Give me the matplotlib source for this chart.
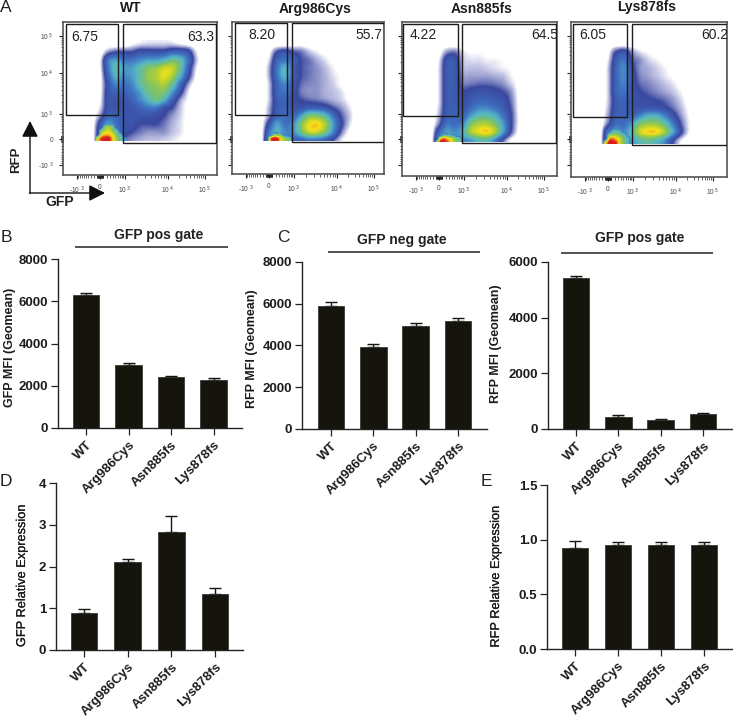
import numpy as np
import matplotlib
matplotlib.use("Agg")
import matplotlib.pyplot as plt
import matplotlib.patheffects as pe
from matplotlib.colors import LinearSegmentedColormap, Normalize
from matplotlib.patches import Rectangle

plt.rcParams['font.family'] = ['Liberation Sans', 'DejaVu Sans']

W, H = 733, 717
categories = ['WT', 'Arg986Cys', 'Asn885fs', 'Lys878fs']

# Bar values / upper error tops
gfp_mfi_pos = [6280, 2998, 2414, 2272]
gfp_mfi_pos_top = [6375, 3060, 2477, 2351]
rfp_mfi_neg = [5908, 3912, 4950, 5174]
rfp_mfi_neg_top = [6084, 4056, 5094, 5300]
rfp_mfi_pos = [5437, 443, 323, 539]
rfp_mfi_pos_top = [5509, 491, 371, 587]
gfp_rel = [0.885, 2.10, 2.82, 1.35]
gfp_rel_top = [0.99, 2.19, 3.22, 1.48]
rfp_rel = [0.927, 0.95, 0.95, 0.95]
rfp_rel_top = [0.99, 0.975, 0.975, 0.975]

# Flow cytometry gate percentages
gate_left = ['6.75', '8.20', '4.22', '6.05']
gate_right = ['63.3', '55.7', '64.5', '60.2']

# Density levels (rows top to bottom, columns left to right)
density_wt = [
 [0,0,0,0,0,.3,.5,.6,.6,.6,.6,.4,.2,0,0],
 [0,0,1,1.5,1.5,1.5,2,2,2,2,2.5,2.5,2,.5,0],
 [0,.3,3,4,3,3,3.5,4,4,4.5,5.5,5,3,.8,0],
 [0,.3,3,5,4,4,5,6,6.5,7.5,7.5,5.5,2.5,.5,0],
 [0,.2,2.5,4.5,3.5,4,5,6.5,7,8,7,4.5,2,.3,0],
 [0,.2,2,3.5,3,3.5,5,6,6.5,7,5.5,3,1,.1,0],
 [0,.2,2,2.5,2.5,3,4,5.5,6,6,4,2,.5,0,0],
 [0,.3,2,2,2,2.5,3.5,4.5,5.5,4.5,2.5,1,.3,.1,0],
 [0,.5,2,2,2,2,2.5,3,3,2,1.5,.7,.2,0,0],
 [0,1,2.5,2.5,2,2,2,2,1.8,1.5,1,.6,.2,0,0],
 [0,2,4,3,2,2,1.5,1.5,1.5,1.2,.8,.5,.2,.1,0],
 [0,2.5,4.5,3.5,2,1.5,1.2,1,1,1,.7,.5,.2,.1,0],
 [0,2.5,4,3.5,1.5,1,.8,.7,.7,.6,.5,.3,.1,0,0],
]
density_arg = [
 [0,0,0,0,.1,.2,.1,0,0,0,0,0,0,0,0],
 [0,.2,1.5,2,1.5,1.2,.7,.4,.2,.1,0,0,0,0,0],
 [0,.5,2.5,3,2.5,1.5,1.2,.8,.5,.2,.1,0,0,0,0],
 [0,.8,3,4.5,2.5,1.5,1.2,1,.7,.4,.2,.1,0,0,0],
 [0,.8,3,4.5,2.5,1.5,1.2,1,.8,.5,.3,.1,0,0,0],
 [0,.6,2.5,3.5,2.2,1.3,1.1,1,.8,.6,.3,.1,0,0,0],
 [0,.6,2.5,3,2,1.2,1,1,.8,.7,.5,.2,.05,0,0],
 [0,.6,2.2,2.5,1.8,1.5,1.3,1.2,1,.8,.6,.3,.05,0,0],
 [0,.8,2.2,2.5,2,2,2.5,2.5,2.2,1.5,1,.5,.1,0,0],
 [0,1,2.5,2.8,2.5,4,6,6,5,3,1.5,.7,.1,0,0],
 [0,2,4,3,3.5,6,8,8.5,7,4,1.8,.6,.1,0,0],
 [0,3,4.5,3.5,3.5,5.5,7.5,7.5,6,3.5,1.3,.3,.1,0,0],
 [0,3.5,4,3.5,2.5,2.5,3,3,2.5,1.5,.5,.1,0,0,0],
]
density_asn = [
 [0,0,0,0,0,0,0,0,0,0,0,0,0,0,0],
 [0,.1,1,1.2,.5,.3,.3,.2,.1,.1,.1,0,0,0,0],
 [0,.4,2,2,.7,.5,.5,.4,.4,.3,.2,.1,0,0,0],
 [0,.5,2.2,2.2,.8,.7,.7,.6,.5,.4,.3,.1,.03,0,0],
 [0,.5,2.2,2.2,1,.9,.9,.9,.8,.7,.4,.15,.05,0,0],
 [0,.5,2.2,2.2,1.2,1.2,1.3,1.3,1.2,1,.6,.2,.05,0,0],
 [0,.5,2.2,2.2,1.6,1.8,2,2,1.8,1.5,1,.2,.05,0,0],
 [0,.5,2.2,2.2,1.8,2.2,2.5,2.5,2.2,2,1.2,.25,.03,0,0],
 [0,.6,2.2,2.3,2,2.8,3.5,3.5,3,2.3,1.4,.25,.03,0,0],
 [0,.8,2.4,2.5,2.5,4,5,5,4.5,3,1.6,.3,.05,0,0],
 [0,1.2,3,2.8,3.5,6,7,7,6,4,1.7,.3,.05,0,0],
 [0,2.5,4,3.5,4.5,7,8,8.5,7,4,1.5,.2,.03,0,0],
 [0,3.5,4,4,3.5,4,5,5,3.5,1.5,.3,.03,0,0,0],
]
density_lys = [
 [0,0,0,0,0,0,0,0,0,0,0,0,0,0,0],
 [0,.2,1.5,2,1,.5,.3,.1,0,0,0,0,0,0,0],
 [0,.4,2.2,3,1.5,1,.6,.4,.2,.1,0,0,0,0,0],
 [0,.6,2.5,3.5,1.8,1,.8,.6,.4,.2,.1,0,0,0,0],
 [0,.6,2.5,3.5,2,1.1,.9,.7,.5,.3,.15,.05,0,0,0],
 [0,.6,2.5,3.3,2,1.3,1.1,.9,.7,.5,.25,.1,0,0,0],
 [0,.6,2.5,3,2,1.6,1.3,1.1,.9,.7,.4,.15,.03,0,0],
 [0,.6,2.2,2.5,2,1.8,1.7,1.5,1.3,1,.6,.2,.05,0,0],
 [0,.7,2.2,2.4,2,2,2.2,2.1,1.8,1.3,.8,.3,.05,0,0],
 [0,.9,2.4,2.5,2.5,3.5,4.5,4.5,3.5,2.2,1.1,.4,.05,0,0],
 [0,1.3,2.8,2.8,4,6,6.5,6.5,5.5,3.5,1.6,.5,.1,0,0],
 [0,3,4,3.5,5,7.5,8.5,8.5,7,4.5,2,.5,.1,0,0],
 [0,3.5,4,3.5,4,5,5.5,5,4,2,.6,.1,0,0,0],
]

# Finer density levels around the negative population in each flow plot
hot_wt = [
 [0,0,0,0,0,0,0,0,0],
 [0,0,0,5.5,6,5,0,0,0],
 [0,0,5,7,7.5,6,4.5,0,0],
 [0,0,7,8.5,8.5,7.5,5.5,4,0],
 [0,7,9.5,10,10,8.5,6.5,5,3.5],
 [0,7,9.5,10,10,8.5,6.5,5,3.5],
 [0,7,9.5,10,10,8.5,6.5,5,3.5],
]
hot_arg = [
 [0,0,0,0,0,0,0,0,0],
 [0,0,0,0,0,0,0,0,0],
 [0,0,0,0,0,0,0,0,0],
 [0,0,0,5,5,4,0,0,0],
 [0,0,8,10,9.5,7.5,6,5,0],
 [0,0,8,10,9.5,7.5,6,5,0],
 [0,0,8,10,9.5,7.5,6,5,0],
]
hot_asn = [
 [0,0,0,0,0,0,0,0,0],
 [0,0,0,0,0,0,0,0,0],
 [0,0,0,0,0,0,0,0,0],
 [0,0,0,3.5,3.5,3,0,0,0],
 [0,0,7,9,8,7,5.5,4.5,0],
 [0,5,10,10,9.5,8,6,5,0],
 [0,5,10,10,9.5,8,6,5,0],
]
hot_lys = [
 [0,0,0,0,0,0,0,0,0],
 [0,0,0,0,0,0,0,0,0],
 [0,0,0,4,4,3.5,0,0,0],
 [0,0,5,6,6,5,4,0,0],
 [0,0,8,9,8,7,5,4,0],
 [0,7,10,10,9.5,7,5.5,4,0],
 [0,7,10,10,9.5,7,5.5,4,0],
]

cmap = LinearSegmentedColormap.from_list('flow', [
    (0.00, '#ffffff'), (0.03, '#ffffff'), (0.06, '#c9cbe8'), (0.15, '#3a479f'),
    (0.30, '#3f72c2'), (0.45, '#55b5c8'), (0.60, '#7cc26a'), (0.72, '#b8d12f'),
    (0.83, '#f3e21c'), (0.91, '#f59a1f'), (1.00, '#d8201f')])
# The fine layer uses the upper part of the same scale; low values stay see-through
cmap_hot = LinearSegmentedColormap.from_list('hot', cmap(np.linspace(0.3, 1, 256))).with_extremes(under=(0, 0, 0, 0))
norm_hot = Normalize(3.0, 10)

fig = plt.figure(figsize=(W/100, H/100), dpi=100)

def fx(x): return x / W
def fy(y): return 1 - y / H

def px_axes(l, t, r, b):
    return fig.add_axes([fx(l), fy(b), (r - l)/W, (b - t)/H], facecolor='none')

def ftext(x, y, s, **kw):
    return fig.text(fx(x), fy(y), s, ha=kw.pop('ha', 'center'), va=kw.pop('va', 'center'), **kw)

def logicle_pos(v, anchors_v, anchors_p):
    t = lambda a: np.arcsinh(np.asarray(a, float)/500)
    return np.interp(t(v), t(anchors_v), anchors_p)

major_v = [-1000, 0, 1000, 10000, 100000]
x_major = [14, 37, 62, 105, 142]
y_major = [143, 117, 92, 51, 14]
major_labels = ['-10$^{\\ 3}$', '0', '10$^{\\ 3}$', '10$^{\\ 4}$', '10$^{\\ 5}$']
minor_v = ([-m*100 for m in range(2, 10)] + [-m*100 for m in range(10, 30, 5)]
           + [s*m*10 for s in (-1, 1) for m in range(1, 10)]
           + [m*100 for m in range(1, 10)] + [m*1000 for m in range(2, 10)]
           + [m*10000 for m in range(2, 10)] + [2e5])

def flow_panel(frame, gl, gr, dens, hot, clip_y, txt_l, txt_r, lab_l, lab_r, title, title_xy, ylabels=False):
    l, t, r, b = frame
    ax = px_axes(l, t, r, b)
    ax.set_facecolor('white')
    w, h = r - l, b - t
    im = ax.imshow(np.array(dens), extent=(25, 145, 122, 18), origin='upper', cmap=cmap,
                   vmin=0, vmax=10, aspect='auto', interpolation='catrom',
                   interpolation_stage='data')
    im2 = ax.imshow(np.array(hot), extent=(28, 64, 126, 98), origin='upper', cmap=cmap_hot,
                    norm=norm_hot, aspect='auto', interpolation='catrom',
                    interpolation_stage='data')
    ax.set_xlim(0, w); ax.set_ylim(h, 0)
    for i in (im, im2):
        i.set_clip_path(Rectangle((0, 0), w, clip_y - t, transform=ax.transData))
    for g in (gl, gr):
        ax.add_patch(Rectangle((g[0]-l, g[1]-t), g[2]-g[0], g[3]-g[1], fill=False,
                               ec='#1c1c1c', lw=1.0, zorder=4))
    ax.text(txt_l[0]-l, txt_l[1]-t, lab_l, ha='left', va='center', fontsize=10, color='#222', clip_on=True)
    ax.text(txt_r[0]-l, txt_r[1]-t, lab_r, ha='left', va='center', fontsize=10, color='#222', clip_on=True)
    ax.set_xticks(x_major); ax.set_xticklabels(major_labels)
    ax.set_yticks(y_major)
    ax.set_yticklabels(major_labels if ylabels else [])
    mx = logicle_pos(minor_v, major_v, x_major); my = logicle_pos(minor_v, major_v, y_major)
    ax.set_xticks(mx[(mx > 0) & (mx < w)], minor=True)
    ax.set_yticks(my[(my > 0) & (my < h)], minor=True)
    ax.tick_params(which='major', length=3.2, width=0.8, color='#222', labelsize=4.8,
                   labelcolor='#444', pad=3.5)
    ax.tick_params(which='minor', length=1.8, width=0.5, color='#222')
    for s in ax.spines.values():
        s.set_color('#555'); s.set_linewidth(1.2)
    ftext(*title_xy, title, fontsize=10, fontweight='bold', color='#1c1c1c')

flow_panel((63, 22, 217, 175), (66, 24, 118, 115), (123, 24, 216, 143), density_wt, hot_wt, 141,
           (71, 37), (187, 37), gate_left[0], gate_right[0], categories[0], (131, 8), ylabels=True)
flow_panel((232, 22, 384, 174), (235, 23, 287, 115), (292, 23, 384, 142), density_arg, hot_arg, 141,
           (248, 35), (355, 35), gate_left[1], gate_right[1], categories[1], (315, 9))
flow_panel((402, 22, 557, 176), (403, 24, 458, 116), (462, 24, 556, 143), density_asn, hot_asn, 142,
           (410, 35), (531, 35), gate_left[2], gate_right[2], categories[2], (482, 9))
flow_panel((571, 22, 727, 177), (573, 24, 627, 117), (632, 24, 727, 145), density_lys, hot_lys, 144,
           (579, 35), (701, 35), gate_left[3], gate_right[3], categories[3], (647, 7))

# RFP / GFP arrows
overlay = fig.add_axes([0, 0, 1, 1], facecolor='none')
overlay.set_xlim(0, W); overlay.set_ylim(H, 0); overlay.axis('off')
overlay.annotate('', xy=(30, 121), xytext=(30, 193.5),
                 arrowprops=dict(arrowstyle='-|>,head_length=0.65,head_width=0.33', color='#111', lw=1.0,
                                 shrinkA=0, shrinkB=0, mutation_scale=15))
overlay.annotate('', xy=(105, 193), xytext=(29.5, 193),
                 arrowprops=dict(arrowstyle='-|>,head_length=0.65,head_width=0.33', color='#111', lw=1.0,
                                 shrinkA=0, shrinkB=0, mutation_scale=15))
ftext(16, 160, 'RFP', rotation=90, fontsize=9.5, fontweight='bold', color='#222')
ftext(60, 202, 'GFP', fontsize=10, fontweight='bold', color='#222')

def bar_panel(left, top, right, bottom, centers, vals, tops, ymax, yticks, yticklabels,
              ylabel, label_x, label_y, semi=False):
    ax = px_axes(left, top, right, bottom)
    spacing = (centers[-1] - centers[0]) / 3
    ax.set_xlim((left - centers[0]) / spacing, (right - centers[0]) / spacing)
    ax.set_ylim(0, ymax)
    xs = np.arange(len(categories))
    vals = np.array(vals); tops = np.array(tops)
    ax.bar(xs, vals, width=26.6/spacing, color='#15140d', edgecolor='#3a3a36', linewidth=0.6, zorder=3)
    ax.errorbar(xs, vals, yerr=[np.zeros(4), tops - vals], fmt='none', ecolor='#15140d',
                elinewidth=1.0, capsize=4.6, capthick=1.0, zorder=2)
    ax.set_xticks(xs)
    ax.set_xticklabels(categories, rotation=45, ha='right', va='top', rotation_mode='anchor',
                       fontsize=9.5, fontweight='bold', color='#1c1c1c')
    ax.set_yticks(yticks); ax.set_yticklabels(yticklabels, fontsize=9.5, fontweight='bold', color='#1c1c1c')
    ax.tick_params(axis='both', length=5, width=0.9, color='#222', pad=2)
    ax.tick_params(axis='x', pad=3)
    for s in ('top', 'right'):
        ax.spines[s].set_visible(False)
    for s in ('left', 'bottom'):
        ax.spines[s].set_linewidth(1.0); ax.spines[s].set_color('#222')
    if semi:
        t = ftext(label_x, label_y, ylabel, rotation=90, fontsize=9.2, color='#1c1c1c')
        t.set_path_effects([pe.withStroke(linewidth=0.15, foreground='#1c1c1c')])
    else:
        ftext(label_x, label_y, ylabel, rotation=90, fontsize=9, fontweight='bold', color='#1c1c1c')
    return ax

bar_panel(58, 259, 242, 428, [86, 129, 171, 213.5], gfp_mfi_pos, gfp_mfi_pos_top, 8000,
          [0, 2000, 4000, 6000, 8000], ['0', '2000', '4000', '6000', '8000'], 'GFP MFI (Geomean)', 10, 347.5)
bar_panel(302, 262, 487, 429, [331, 373, 416, 458], rfp_mfi_neg, rfp_mfi_neg_top, 8000,
          [0, 2000, 4000, 6000, 8000], ['0', '2000', '4000', '6000', '8000'], 'RFP MFI (Geomean)', 252, 349)
bar_panel(548, 262, 732, 429, [576, 618, 661, 703], rfp_mfi_pos, rfp_mfi_pos_top, 6000,
          [0, 2000, 4000, 6000], ['0', '2000', '4000', '6000'], 'RFP MFI (Geomean)', 496, 343.5)
bar_panel(56, 483, 243, 650, [84, 128, 171, 215], gfp_rel, gfp_rel_top, 4,
          [0, 1, 2, 3, 4], ['0', '1', '2', '3', '4'], 'GFP Relative Expression', 22, 576, semi=True)
bar_panel(547, 485, 732, 649, [575, 618, 661, 704], rfp_rel, rfp_rel_top, 1.5,
          [0, 0.5, 1.0, 1.5], ['0.0', '0.5', '1.0', '1.5'], 'RFP Relative Expression', 496, 577, semi=True)

# Gate headers
for tx, ty, lx0, lx1, ly, s in [(159, 235, 75, 228, 247, 'GFP pos gate'),
                                (402, 240, 328, 480, 252, 'GFP neg gate'),
                                (640, 238, 561, 713, 253, 'GFP pos gate')]:
    ftext(tx, ty, s, fontsize=10, fontweight='bold', color='#222')
    overlay.plot([lx0, lx1], [ly, ly], color='#222', lw=1.1, solid_capstyle='butt')

# Panel letters
for x, y, s in [(6, 8, 'A'), (6, 238, 'B'), (283, 238, 'C'), (6, 482, 'D'), (486, 482, 'E')]:
    ftext(x, y, s, fontsize=12.5, color='#222')

fig.savefig('out.png', dpi=100)
